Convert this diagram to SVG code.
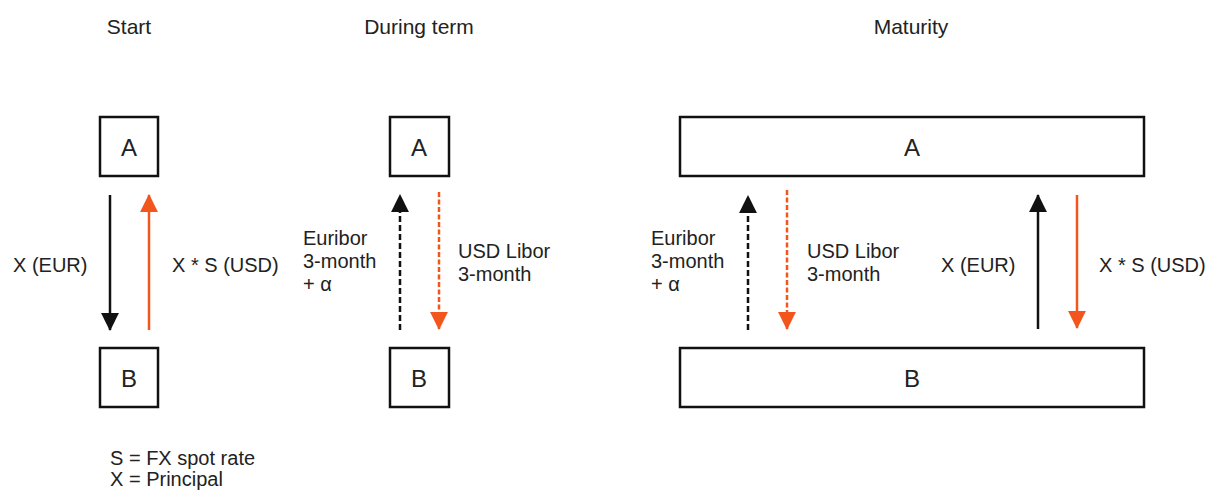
<svg xmlns="http://www.w3.org/2000/svg" width="1213" height="502" viewBox="0 0 1213 502">
<style>
text{font-family:"Liberation Sans",Arial,sans-serif;fill:#222;font-size:20px}
.title{font-size:21px;text-anchor:middle}
.box{fill:#fff;stroke:#111;stroke-width:2.5}
.lbl{font-size:24px;text-anchor:middle}
.blk{stroke:#111;stroke-width:2.5;fill:none}
.org{stroke:#F2561D;stroke-width:2.5;fill:none}
.dash{stroke-dasharray:6 3}
.dasho{stroke-dasharray:5 2.5}
</style>
<defs>
<marker id="hb" viewBox="0 0 10 10" refX="9.5" refY="5" markerUnits="userSpaceOnUse" markerWidth="18" markerHeight="18" orient="auto"><path d="M0,0 L10,5 L0,10 z" fill="#111"/></marker>
<marker id="ho" viewBox="0 0 10 10" refX="9.5" refY="5" markerUnits="userSpaceOnUse" markerWidth="18" markerHeight="18" orient="auto"><path d="M0,0 L10,5 L0,10 z" fill="#F2561D"/></marker>
</defs>
<rect width="1213" height="502" fill="#fff"/>
<g id="titles">
<text class="title" x="129" y="34">Start</text>
<text class="title" x="419" y="34">During term</text>
<text class="title" x="911" y="34">Maturity</text>
</g>
<g id="start-A"><rect class="box" x="100" y="117" width="58" height="59"/><text class="lbl" x="129" y="156">A</text></g>
<g id="start-B"><rect class="box" x="100" y="348" width="58" height="59"/><text class="lbl" x="129" y="387">B</text></g>
<g id="term-A"><rect class="box" x="390" y="117" width="59" height="59"/><text class="lbl" x="419" y="156">A</text></g>
<g id="term-B"><rect class="box" x="390" y="348" width="59" height="59"/><text class="lbl" x="419" y="387">B</text></g>
<g id="mat-A"><rect class="box" x="680" y="117" width="464" height="59"/><text class="lbl" x="912" y="156">A</text></g>
<g id="mat-B"><rect class="box" x="680" y="348" width="464" height="59"/><text class="lbl" x="912" y="387">B</text></g>
<g id="connectors">
<line class="blk" x1="110" y1="195" x2="110" y2="330" marker-end="url(#hb)"/>
<line class="org" x1="149" y1="330" x2="149" y2="195" marker-end="url(#ho)"/>
<line class="blk dash" x1="400" y1="330" x2="400" y2="195" marker-end="url(#hb)"/>
<line class="org dasho" x1="439" y1="192" x2="439" y2="329" marker-end="url(#ho)"/>
<line class="blk dash" x1="748" y1="330" x2="748" y2="196" marker-end="url(#hb)"/>
<line class="org dasho" x1="787" y1="190" x2="787" y2="329" marker-end="url(#ho)"/>
<line class="blk" x1="1038" y1="329" x2="1038" y2="195" marker-end="url(#hb)"/>
<line class="org" x1="1077" y1="195" x2="1077" y2="328" marker-end="url(#ho)"/>
</g>
<g id="labels">
<text x="13" y="272">X (EUR)</text>
<text x="172" y="272">X * S (USD)</text>
<text x="303" y="245">Euribor</text>
<text x="303" y="268">3-month</text>
<text x="303" y="291">+ α</text>
<text x="458" y="258">USD Libor</text>
<text x="458" y="281">3-month</text>
<text x="651" y="245">Euribor</text>
<text x="651" y="268">3-month</text>
<text x="651" y="291">+ α</text>
<text x="807" y="258">USD Libor</text>
<text x="807" y="281">3-month</text>
<text x="941" y="272">X (EUR)</text>
<text x="1099" y="272">X * S (USD)</text>
</g>
<g id="legend">
<text x="110" y="465">S = FX spot rate</text>
<text x="110" y="486">X = Principal</text>
</g>
</svg>
